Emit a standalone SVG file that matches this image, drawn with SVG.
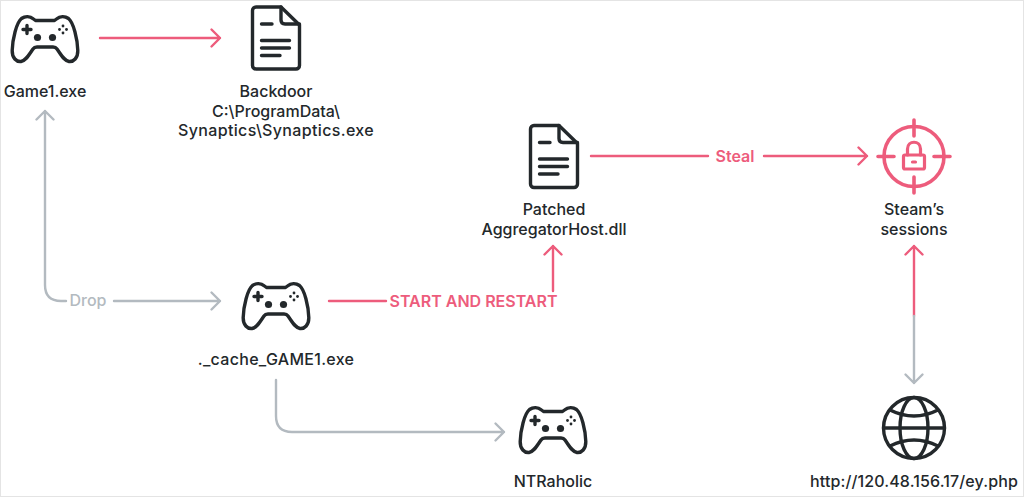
<svg xmlns="http://www.w3.org/2000/svg" width="1024" height="497" viewBox="0 0 1024 497">
<style>
text{font-family:"Inter","Liberation Sans",sans-serif;font-size:16px;font-weight:500;fill:#23282b;text-anchor:middle}
.pad{fill:#23282b;stroke:none}
.ic{fill:none;stroke:#23282b;stroke-width:3.4;stroke-linecap:round;stroke-linejoin:round}
.p{fill:none;stroke:#ed5c7c;stroke-width:2.4;stroke-linecap:round;stroke-linejoin:round}
.g{fill:none;stroke:#b3bac0;stroke-width:2.4;stroke-linecap:round;stroke-linejoin:round}
.tk{fill:none;stroke:#ed5c7c;stroke-width:3.6;stroke-linecap:round;stroke-linejoin:round}
.tp{fill:#ed5c7c;font-weight:600}
.tg{fill:#b3bac0}
</style>
<defs>
<g id="pad">
<path class="ic" d="M-23.500 -22.500C-20 -25 -15 -25 -11.500 -22L-9.500 -20.500H9.500L11.500 -22C15 -25 20 -25 23.500 -22.500C28.500 -18.500 32.500 -2 32.800 9.500C33 17 28.500 21 24 20.500C19 19.500 16.500 14.500 12 8C11 6.500 10 6 8 6H-8C-10 6 -11 6.500 -12 8C-16.500 14.500 -19 19.500 -24 20.500C-28.500 21 -33 17 -32.800 9.500C-32.500 -2 -28.500 -18.500 -23.500 -22.500Z"/>
<path class="ic" d="M-18 -15.500V-7.500M-22 -11.500H-14"/>
<circle class="pad" cx="-7.500" cy="-3.500" r="3.600"/>
<circle class="pad" cx="7.500" cy="-3.500" r="3.600"/>
<circle class="pad" cx="18" cy="-15" r="1.400"/>
<circle class="pad" cx="18" cy="-8" r="1.400"/>
<circle class="pad" cx="14.500" cy="-11.500" r="1.400"/>
<circle class="pad" cx="21.500" cy="-11.500" r="1.400"/>
</g>
<g id="doc">
<path class="ic" d="M-20 -31H5L23.500 -13V27.500C23.500 29.500 22 31 20 31H-20C-22 31 -23.500 29.500 -23.500 27.500V-27.500C-23.500 -29.500 -22 -31 -20 -31Z"/>
<path class="ic" d="M5 -31V-18C5 -15.500 6.500 -14 9 -14H23.500"/>
<path class="ic" d="M-14.500 -14H-4M-14.500 2.500H13.500M-14.500 10H13.500M-14.500 17.500H4"/>
</g>
</defs>
<rect width="1024" height="497" fill="#fff"/>
<rect x="0.500" y="0.500" width="1023" height="496" fill="none" stroke="#e4e4e4"/>
<g id="connectors">
<path class="p" d="M100 38H220M211.500 29.500L220 38L211.500 46.500"/>
<path class="g" d="M45 111V285Q45 301 61 301H66M36.500 119.500L45 111L53.500 119.500"/>
<path class="g" d="M114 301H220M211.500 292.500L220 301L211.500 309.500"/>
<path class="p" d="M329 301H386"/>
<path class="p" d="M553 291V246M544.500 254.500L553 246L561.500 254.500"/>
<path class="p" d="M591 156H708M764 156H867M858.500 147.500L867 156L858.500 164.500"/>
<path class="p" d="M914 316V246M905.500 254.500L914 246L922.500 254.500"/>
<path class="g" d="M914 316V383M905.500 374.500L914 383L922.500 374.500"/>
<path class="g" d="M276 380V416Q276 432 292 432H504M495.500 423.500L504 432L495.500 440.500"/>
</g>
<g id="game1"><use href="#pad" x="45" y="41"/><text x="45" y="97">Game1.exe</text></g>
<g id="backdoor"><use href="#doc" x="276" y="38"/><text x="276" y="97">Backdoor</text><text x="276" y="116.500">C:\ProgramData\</text><text x="276" y="136" letter-spacing="0.350">Synaptics\Synaptics.exe</text></g>
<g id="patched"><use href="#doc" x="554" y="156.500"/><text x="554" y="215">Patched</text><text x="554" y="235">AggregatorHost.dll</text></g>
<g id="steam">
<circle class="tk" cx="914" cy="156.500" r="30"/>
<path class="tk" d="M914 120V136M914 177V193M878 156.500H894M934 156.500H950"/>
<rect x="903.500" y="155" width="21" height="14" rx="1.500" class="tk" style="stroke-width:3.200px"/>
<path class="tk" style="stroke-width:3.200px" d="M907.500 155V149C907.500 140 920.500 140 920.500 149V155M912.500 162H915.500"/>
<text x="914" y="215">Steam’s</text><text x="914" y="235">sessions</text>
</g>
<g id="cache"><use href="#pad" x="276" y="308"/><text x="276" y="365" letter-spacing="0.300">._cache_GAME1.exe</text></g>
<g id="ntraholic"><use href="#pad" x="553" y="432"/><text x="553" y="487">NTRaholic</text></g>
<g id="url">
<g class="ic">
<circle cx="914" cy="428" r="30.500"/>
<ellipse cx="914" cy="428" rx="14" ry="30.500"/>
<path d="M883.500 428H944.500M890 410Q914 422 938 410M890 446Q914 434 938 446"/>
</g>
<text x="914" y="487" letter-spacing="0.120">http://120.48.156.17/ey.php</text>
</g>
<g id="labels">
<text class="tg" x="88" y="306">Drop</text>
<text class="tp" x="473.500" y="307">START AND RESTART</text>
<text class="tp" x="735" y="162">Steal</text>
</g>
</svg>
